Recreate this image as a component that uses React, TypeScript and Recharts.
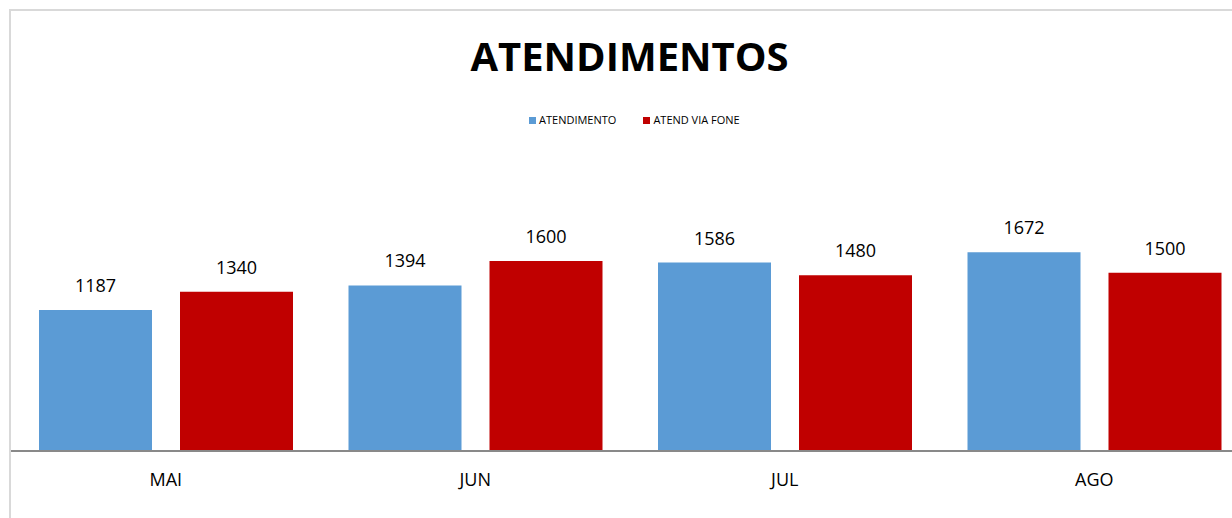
import { BarChart, Bar, XAxis, YAxis, LabelList } from "recharts";

const months = ["MAI", "JUN", "JUL", "AGO"];
const atendimento = [1187, 1394, 1586, 1672];
const atendViaFone = [1340, 1600, 1480, 1500];

const series = [
  { key: "atendimento", name: "ATENDIMENTO", color: "#5B9BD5" },
  { key: "fone", name: "ATEND VIA FONE", color: "#C00000" },
];

const data = months.map((m, i) => ({
  month: m,
  atendimento: atendimento[i],
  fone: atendViaFone[i],
}));

const FONT = "'Open Sans', 'Liberation Sans', sans-serif";

export default function App() {
  return (
    <div
      style={{
        position: "fixed",
        left: 8,
        top: 8,
        width: 1240,
        height: 520,
        overflow: "hidden",
        fontFamily: FONT,
        background: "#fff",
      }}
    >
      <div
        style={{
          position: "absolute",
          left: 1,
          top: 1,
          width: 3000,
          height: 3000,
          borderTop: "2px solid #d9d9d9",
          borderLeft: "2px solid #d9d9d9",
        }}
      />
      <div
        style={{
          position: "absolute",
          left: 0,
          top: 28.2,
          width: 1243,
          textAlign: "center",
          fontSize: 40,
          lineHeight: 1,
          fontWeight: 700,
          color: "#000",
        }}
      >
        ATENDIMENTOS
      </div>
      <div
        style={{
          position: "absolute",
          left: 521,
          top: 104,
          display: "flex",
          alignItems: "center",
          fontSize: 11,
          color: "#000",
          lineHeight: "16px",
        }}
      >
        {series.map((s, i) => (
          <div
            key={s.key}
            style={{ display: "flex", alignItems: "center", marginRight: i === 0 ? 27 : 0 }}
          >
            <span
              style={{ display: "inline-block", width: 7, height: 7, background: s.color, marginRight: 3 }}
            />
            <span>{s.name}</span>
          </div>
        ))}
      </div>
      <div style={{ position: "absolute", left: 0, top: 0 }}>
        <BarChart
          width={1241}
          height={503}
          data={data}
          margin={{ top: 205.4, right: 0, bottom: 0, left: 3 }}
          barCategoryGap={28}
          barGap={28}
        >
          <XAxis
            dataKey="month"
            height={60}
            tickLine={false}
            tickSize={0}
            tickMargin={22}
            axisLine={{ stroke: "#898989", strokeWidth: 2 }}
            tick={{ fontFamily: FONT, fontSize: 18, fill: "#000" }}
          />
          <YAxis hide domain={[0, 2000]} />
          {series.map((s) => (
            <Bar key={s.key} dataKey={s.key} name={s.name} fill={s.color} isAnimationActive={false}>
              <LabelList
                dataKey={s.key}
                position="top"
                offset={18}
                style={{ fontFamily: FONT, fontSize: 18, fill: "#000" }}
              />
            </Bar>
          ))}
        </BarChart>
      </div>
    </div>
  );
}
